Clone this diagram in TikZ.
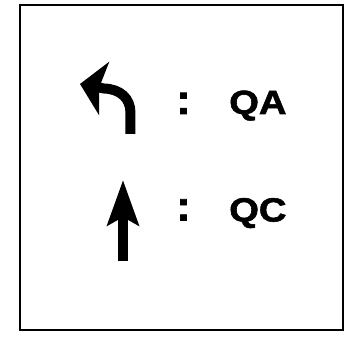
\documentclass[tikz,border=0pt]{standalone}
\usepackage{fontspec}
\setmainfont{Liberation Sans}
\newfontfamily\legendfont{Liberation Sans Bold}[FakeBold=1.6]
\usetikzlibrary{arrows.meta}

\begin{document}
\begin{tikzpicture}[
    x=1pt, y=-1pt,
    frame/.style={draw=black, line width=2pt},
    turnarrow/.style={line width=10pt, -{Stealth[length=24.5pt, width=54pt, inset=5pt]}},
    upwardarrow/.style={line width=10pt, -{Stealth[length=45pt, width=31pt, inset=8pt]}},
    sep/.style={inner sep=0pt, anchor=base, font=\fontsize{42}{44}\legendfont},
    label/.style={inner sep=0pt, anchor=base west, xscale=1.14,
                  font=\fontsize{33.5}{36}\legendfont}
]
    \useasboundingbox (0,0) rectangle (360,339);
    % Frame
    \draw[frame] (20,5.5) rectangle (343.5,330.5);

    % Arrow symbols
    \coordinate (turnfoot) at (130.5,134);
    \coordinate (turnbend) at (130.5,113);
    \coordinate (turnneck) at (104,88.5);
    \coordinate (turntip)  at (80,84);
    \coordinate (upfoot)   at (123,261);
    \coordinate (uptip)    at (123,180);

    \draw[turnarrow] (turnfoot) -- (turnbend) .. controls (130.5,98) and (120,89) .. (turnneck) -- (turntip);
    \draw[upwardarrow] (upfoot) -- (uptip);

    % Legend texts
    \node[sep]   (sepA) at (183.5,114) {:};
    \node[label] (qa)   at (229,114)   {QA};
    \node[sep]   (sepC) at (183.5,220.5) {:};
    \node[label] (qc)   at (229,221.5) {QC};
\end{tikzpicture}
\end{document}
